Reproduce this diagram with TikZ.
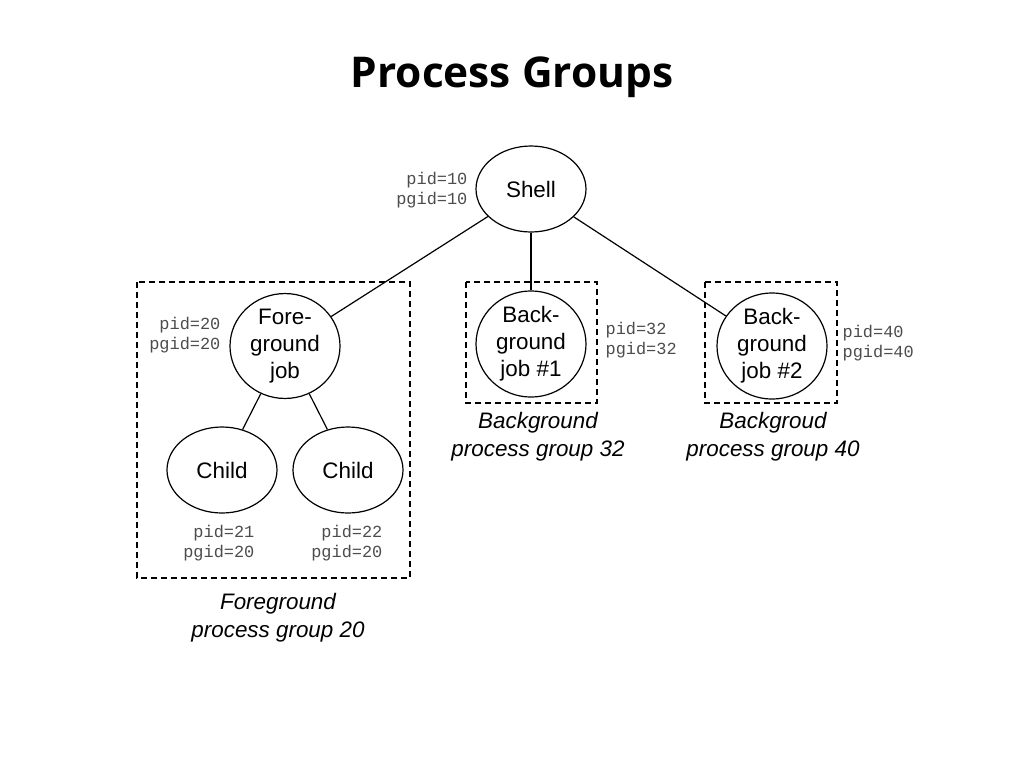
\documentclass[tikz,border=0pt]{standalone}
\usepackage{fontspec}
\setmainfont{Liberation Sans}
\setmonofont{Liberation Mono}
\newfontfamily\titlefont{Open Sans}
\usetikzlibrary{shapes.geometric}

\begin{document}
\begin{tikzpicture}[x=0.75pt,y=-0.75pt,line width=0.9pt,
    proc/.style={draw,ellipse,minimum width=82.5pt,minimum height=72pt,inner sep=0pt,
      align=center,font=\fontsize{16.8}{20.3}\selectfont},
    ids/.style={font=\ttfamily\fontsize{12.7}{15.5}\selectfont,text=black!70,inner sep=0pt},
    group/.style={draw,dash pattern=on 4.5pt off 3pt},
    caption/.style={align=center,font=\itshape\fontsize{16.8}{21}\selectfont}]

    \useasboundingbox (0,0) rectangle (1024,768);
    \node[font=\titlefont\bfseries\fontsize{31.8}{36}\selectfont] (title) at (512,77) {Process Groups};

    % process groups
    \draw[group] (137,282) rectangle (410,578);
    \draw[group] (466,282) rectangle (597,403);
    \draw[group] (705,282) rectangle (837,403);

    % processes
    \node[proc,minimum height=64.5pt] (shell) at (531,189) {Shell};
    \node[proc] (fg) at (285,346) {Fore-\\ground\\job};
    \node[proc,minimum height=64.5pt] (child1) at (222,470) {Child};
    \node[proc,minimum height=64.5pt] (child2) at (348,470) {Child};
    \node[proc] (bg1) at (531,344) {Back-\\ground\\job \#1};
    \node[proc] (bg2) at (772,346) {Back-\\ground\\job \#2};

    \draw (shell) -- (fg);
    \draw (shell) -- (bg1);
    \draw (shell) -- (bg2);
    \draw (fg) -- (child1);
    \draw (fg) -- (child2);

    % ids
    \node[ids,align=right,anchor=east] (shellid) at (468,190) {pid=10\\pgid=10};
    \node[ids,align=right,anchor=east] (fgid) at (221,335) {pid=20\\pgid=20};
    \node[ids,align=right,anchor=east] (child1id) at (255,543) {pid=21\\pgid=20};
    \node[ids,align=right,anchor=east] (child2id) at (383,543) {pid=22\\pgid=20};
    \node[ids,align=left,anchor=west] (bg1id) at (605,340) {pid=32\\pgid=32};
    \node[ids,align=left,anchor=west] (bg2id) at (842,343) {pid=40\\pgid=40};

    % captions
    \node[caption] (fgcap) at (278,618) {Foreground\\process group 20};
    \node[caption] (bg1cap) at (538,437) {Background\\process group 32};
    \node[caption] (bg2cap) at (773,437) {Backgroud\\process group 40};

\end{tikzpicture}
\end{document}
